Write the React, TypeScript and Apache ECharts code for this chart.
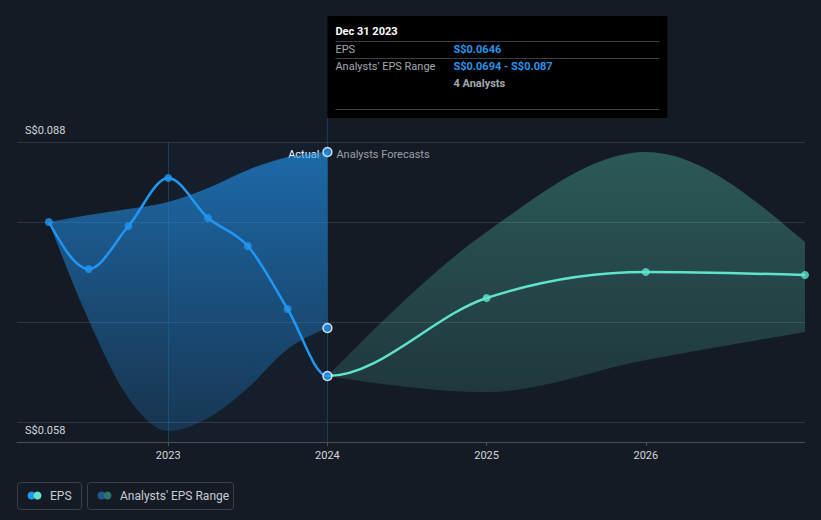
import React, { useEffect, useRef } from "react";
import * as echarts from "echarts";

// ---- data ----
const X_PAST = [2022.25, 2022.5, 2022.75, 2023.0, 2023.25, 2023.5, 2023.75, 2024.0];
const EPS_PAST = [0.08, 0.0753, 0.0796, 0.0844, 0.0804, 0.0776, 0.0713, 0.0646];
const RANGE_PAST_LOW = [0.08, 0.0702, 0.0624, 0.0591, 0.0604, 0.0634, 0.0673, 0.0694];
const RANGE_PAST_HIGH = [0.08, 0.0807, 0.0813, 0.082, 0.0834, 0.0852, 0.0865, 0.087];

const X_FC = [2024, 2025, 2026, 2027];
const EPS_FC = [0.0646, 0.0724, 0.075, 0.0747];
const RANGE_FC_LOW = [0.0646, 0.063, 0.0662, 0.069];
const RANGE_FC_HIGH = [0.0646, 0.079, 0.087, 0.078];

const MARKERS_2024 = [0.087, 0.0694];

const X_TICKS = [2023, 2024, 2025, 2026];
const Y_GRID = [0.06, 0.07, 0.08, 0.088];
const Y_LABELS = [0.058, 0.088];
const Y_MIN = 0.058;
const Y_MAX = 0.088;
const X_MIN = 2022.05;
const X_MAX = 2027.0;

const BG = "#151b24";
const BLUE = "#2196f3";
const TEAL = "#5fe3cc";
const FONT = "Roboto, 'Noto Sans', sans-serif";

type P = [number, number];

// monotone-x cubic tangents (Fritsch–Carlson, as in d3.curveMonotoneX)
const sgn = (v: number) => (v < 0 ? -1 : 1);
function tangents(pts: P[]): number[] {
  const n = pts.length;
  const t = new Array(n).fill(0);
  if (n < 2) return t;
  const sl = (i: number) => (pts[i + 1][1] - pts[i][1]) / (pts[i + 1][0] - pts[i][0]);
  for (let i = 1; i < n - 1; i++) {
    const [x0, y0] = pts[i - 1];
    const [x1, y1] = pts[i];
    const [x2, y2] = pts[i + 1];
    const h0 = x1 - x0;
    const h1 = x2 - x1;
    const s0 = (y1 - y0) / h0;
    const s1 = (y2 - y1) / h1;
    const p = (s0 * h1 + s1 * h0) / (h0 + h1);
    t[i] = (sgn(s0) + sgn(s1)) * Math.min(Math.abs(s0), Math.abs(s1), 0.5 * Math.abs(p)) || 0;
  }
  t[0] = n > 2 ? (3 * sl(0) - t[1]) / 2 : sl(0);
  t[n - 1] = n > 2 ? (3 * sl(n - 2) - t[n - 2]) / 2 : sl(n - 2);
  return t;
}
type Seg = { p0: P; c1: P; c2: P; p1: P };
function segments(pts: P[]): Seg[] {
  const t = tangents(pts);
  const out: Seg[] = [];
  for (let i = 0; i < pts.length - 1; i++) {
    const [x0, y0] = pts[i];
    const [x1, y1] = pts[i + 1];
    const dx = (x1 - x0) / 3;
    out.push({ p0: pts[i], c1: [x0 + dx, y0 + dx * t[i]], c2: [x1 - dx, y1 - dx * t[i + 1]], p1: pts[i + 1] });
  }
  return out;
}
const f = (v: number) => v.toFixed(2);
function segPath(segs: Seg[], move = true): string {
  if (!segs.length) return "";
  let d = move ? `M${f(segs[0].p0[0])},${f(segs[0].p0[1])}` : "";
  for (const s of segs) d += `C${f(s.c1[0])},${f(s.c1[1])} ${f(s.c2[0])},${f(s.c2[1])} ${f(s.p1[0])},${f(s.p1[1])}`;
  return d;
}
function bandPath(low: P[], high: P[]): string {
  const lo = segments(low);
  const hi = segments(high);
  let d = segPath(lo);
  const last = high[high.length - 1];
  d += `L${f(last[0])},${f(last[1])}`;
  for (let i = hi.length - 1; i >= 0; i--) {
    const s = hi[i];
    d += `C${f(s.c2[0])},${f(s.c2[1])} ${f(s.c1[0])},${f(s.c1[1])} ${f(s.p0[0])},${f(s.p0[1])}`;
  }
  return d + "Z";
}

export default function App() {
  const ref = useRef<HTMLDivElement>(null);

  useEffect(() => {
    const chart = echarts.init(ref.current!, null, { renderer: "svg" });

    const bandSeries = (name: string, xs: number[], lo: number[], hi: number[], fill: any) => ({
      name,
      type: "custom",
      silent: true,
      z: 2,
      encode: { x: 0, y: [1, 2] },
      data: xs.map((x, i) => [x, lo[i], hi[i]]),
      renderItem: (params: any, api: any) => {
        if (params.dataIndex !== 0) return null;
        const L = xs.map((x, i) => api.coord([x, lo[i]]) as P);
        const H = xs.map((x, i) => api.coord([x, hi[i]]) as P);
        return {
          type: "path",
          shape: { pathData: bandPath(L, H) },
          style: { fill, stroke: "none" },
        };
      },
    });

    // whole EPS line (actual + forecast) as one monotone curve
    const X_ALL = X_PAST.concat(X_FC.slice(1));
    const EPS_ALL = EPS_PAST.concat(EPS_FC.slice(1));
    const nPastSegs = X_PAST.length - 1;

    const option: any = {
      animation: false,
      backgroundColor: BG,
      textStyle: { fontFamily: FONT },
      grid: { left: 17, right: 16, top: 142, bottom: 78, containLabel: false },
      xAxis: {
        type: "value",
        min: X_MIN,
        max: X_MAX,
        axisLine: { show: true, lineStyle: { color: "#4b5058", width: 1 } },
        axisTick: {
          show: true,
          length: 4,
          customValues: X_TICKS,
          lineStyle: { color: "#4b5058" },
        },
        splitLine: { show: false },
        axisLabel: {
          customValues: X_TICKS,
          formatter: (v: number) => String(Math.round(v)),
          color: "#d4d7dc",
          fontSize: 11,
          margin: 8,
          fontFamily: FONT,
        },
      },
      yAxis: {
        type: "value",
        min: Y_MIN,
        max: Y_MAX,
        axisLine: { show: false },
        axisTick: { show: false, customValues: Y_GRID },
        splitLine: { show: true, lineStyle: { color: "#2f353e", width: 1 } },
        axisLabel: {
          inside: true,
          customValues: Y_LABELS,
          margin: 8,
          color: "#d4d7dc",
          fontSize: 11,
          fontFamily: FONT,
          verticalAlign: "bottom",
          padding: [0, 0, 6, 0],
          formatter: (v: number) => "S$" + v.toFixed(3),
        },
      },
      series: [
        {
          name: "decor",
          type: "line",
          data: [],
          silent: true,
          z: 1,
          markArea: {
            silent: true,
            itemStyle: { color: "rgba(33,150,243,0.04)" },
            data: [[{ xAxis: 2023 }, { xAxis: 2024 }]],
          },
          markLine: {
            silent: true,
            symbol: "none",
            label: { show: false },
            lineStyle: { color: "rgba(45,125,195,0.32)", width: 1, type: "solid" },
            data: [{ xAxis: 2023 }, { xAxis: 2024 }],
          },
        },
        bandSeries(
          "pastRange",
          X_PAST,
          RANGE_PAST_LOW,
          RANGE_PAST_HIGH,
          new echarts.graphic.LinearGradient(0, 0, 0, 1, [
            { offset: 0, color: "rgba(33,150,243,0.62)" },
            { offset: 1, color: "rgba(33,150,243,0.2)" },
          ])
        ),
        bandSeries(
          "fcRange",
          X_FC,
          RANGE_FC_LOW,
          RANGE_FC_HIGH,
          new echarts.graphic.LinearGradient(0, 0, 0, 1, [
            { offset: 0, color: "rgba(92,220,200,0.32)" },
            { offset: 1, color: "rgba(92,220,200,0.15)" },
          ])
        ),
        {
          name: "epsLine",
          type: "custom",
          silent: true,
          z: 3,
          encode: { x: 0, y: 1 },
          data: X_ALL.map((x, i) => [x, EPS_ALL[i]]),
          renderItem: (params: any, api: any) => {
            if (params.dataIndex !== 0) return null;
            const pts = X_ALL.map((x, i) => api.coord([x, EPS_ALL[i]]) as P);
            const segs = segments(pts);
            return {
              type: "group",
              children: [
                {
                  type: "path",
                  shape: { pathData: segPath(segs.slice(nPastSegs)) },
                  style: { fill: "none", stroke: TEAL, lineWidth: 2.5 },
                },
                {
                  type: "path",
                  shape: { pathData: segPath(segs.slice(0, nPastSegs)) },
                  style: { fill: "none", stroke: BLUE, lineWidth: 2.5 },
                },
              ],
            };
          },
        },
        {
          name: "epsForecastPoints",
          type: "scatter",
          symbol: "circle",
          symbolSize: 8,
          itemStyle: { color: TEAL },
          data: X_FC.slice(1).map((x, i) => [x, EPS_FC[i + 1]]),
          z: 4,
        },
        {
          name: "epsPastPoints",
          type: "scatter",
          symbol: "circle",
          symbolSize: 8,
          itemStyle: { color: BLUE },
          data: X_PAST.map((x, i) =>
            i === X_PAST.length - 1
              ? {
                  value: [x, EPS_PAST[i]],
                  symbolSize: 9,
                  itemStyle: { color: BLUE, borderColor: "#ffffff", borderWidth: 1.5 },
                }
              : [x, EPS_PAST[i]]
          ),
          z: 5,
        },
        {
          name: "rangeMarkers",
          type: "scatter",
          symbol: "circle",
          symbolSize: 9,
          itemStyle: { color: BLUE, borderColor: "#ffffff", borderWidth: 1.5 },
          data: MARKERS_2024.map((v) => [2024, v]),
          z: 5,
        },
      ],
    };
    chart.setOption(option);

    const x24 = chart.convertToPixel({ xAxisIndex: 0 }, 2024) as number;
    const yTop = chart.convertToPixel({ yAxisIndex: 0 }, Y_MAX) as number;
    const tipTop = 16;
    const tipH = 102;
    const tipW = 340;
    const lx = x24 + 8;
    const vx = x24 + 126;
    const sep = (y: number) => ({
      type: "line",
      shape: { x1: lx, y1: y, x2: x24 + tipW - 8, y2: y },
      style: { stroke: "#3a3f47", lineWidth: 1 },
    });
    const txt = (x: number, y: number, text: string, fill: string, weight = "normal", align = "left", size = 11) => ({
      type: "text",
      x,
      y,
      style: {
        text,
        fill,
        fontSize: size,
        fontWeight: weight,
        fontFamily: FONT,
        align,
        verticalAlign: "middle",
      },
    });

    chart.setOption({
      graphic: [
        {
          type: "line",
          shape: { x1: x24, y1: tipTop + tipH, x2: x24, y2: yTop },
          style: { stroke: "rgba(45,125,195,0.32)", lineWidth: 1 },
        },
        {
          type: "rect",
          shape: { x: x24, y: tipTop, width: tipW, height: tipH },
          style: { fill: "#000000" },
        },
        txt(lx, 31, "Dec 31 2023", "#ffffff", "bold"),
        sep(41.5),
        txt(lx, 49.5, "EPS", "#a3a8ae"),
        txt(vx, 49.5, "S$0.0646", "#2b94e8", "bold"),
        sep(58.5),
        txt(lx, 66.5, "Analysts' EPS Range", "#a3a8ae"),
        txt(vx, 66.5, "S$0.0694 - S$0.087", "#2b94e8", "bold"),
        txt(vx, 83.5, "4 Analysts", "#a3a8ae", "bold"),
        sep(109.5),
        txt(x24 - 8, 154, "Actual", "#ffffff", "normal", "right"),
        txt(x24 + 9, 154, "Analysts Forecasts", "#9aa0a8", "normal", "left"),
        // legend
        {
          type: "rect",
          shape: { x: 17.5, y: 482.5, width: 64, height: 27, r: 3 },
          style: { fill: "none", stroke: "#3b414b", lineWidth: 1 },
        },
        { type: "circle", shape: { cx: 31.5, cy: 495.5, r: 4 }, style: { fill: BLUE } },
        { type: "circle", shape: { cx: 37.5, cy: 495.5, r: 4 }, style: { fill: TEAL } },
        txt(50, 495.5, "EPS", "#c9cdd3", "normal", "left", 12),
        {
          type: "rect",
          shape: { x: 87.5, y: 482.5, width: 146, height: 27, r: 3 },
          style: { fill: "none", stroke: "#3b414b", lineWidth: 1 },
        },
        { type: "circle", shape: { cx: 101.5, cy: 495.5, r: 4 }, style: { fill: "#1e5a8c" } },
        { type: "circle", shape: { cx: 107.5, cy: 495.5, r: 4 }, style: { fill: "#2d746c" } },
        txt(120, 495.5, "Analysts' EPS Range", "#c9cdd3", "normal", "left", 12),
      ],
    });

    return () => chart.dispose();
  }, []);

  return (
    <div
      ref={ref}
      style={{ position: "fixed", left: 0, top: 0, width: 821, height: 520 }}
    />
  );
}
